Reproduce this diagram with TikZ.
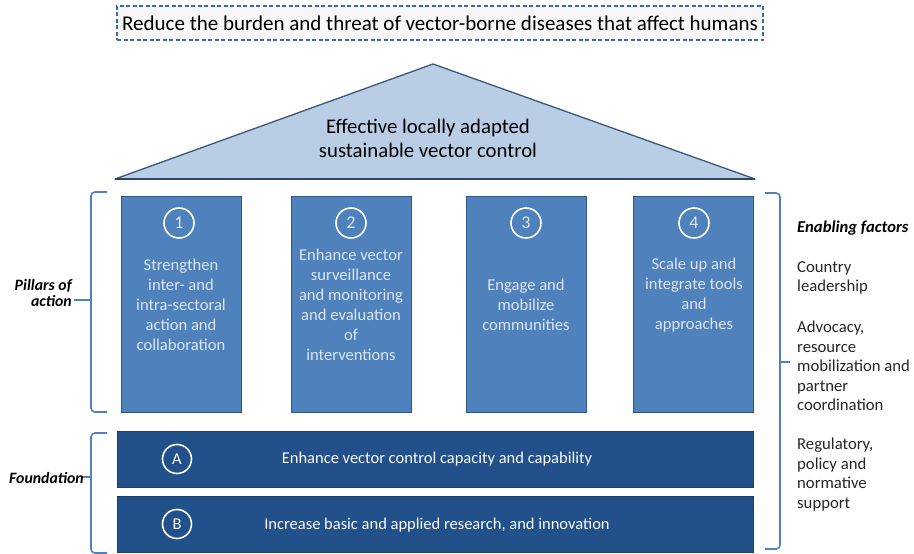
\documentclass[tikz,border=0pt]{standalone}
\usepackage{fontspec}
\setmainfont{Carlito}
\definecolor{roofFill}{HTML}{B9CDE5}
\definecolor{roofLine}{HTML}{3B5878}
\definecolor{pillarFill}{HTML}{4F81BD}
\definecolor{pillarLine}{HTML}{2E5687}
\definecolor{pillarText}{HTML}{DCE6F2}
\definecolor{baseFill}{HTML}{21508A}
\definecolor{braceCol}{HTML}{4F81BD}
\definecolor{dashCol}{HTML}{3E6A9E}
\begin{document}
\begin{tikzpicture}[x=1pt,y=-1pt,
  pillarbox/.style={draw=pillarLine,line width=1pt,fill=pillarFill,minimum width=120pt,minimum height=216pt,inner sep=0pt},
  basebar/.style={draw=baseFill!80!black,line width=0.8pt,fill=baseFill,minimum width=636pt,minimum height=56pt,inner sep=0pt},
  numcirc/.style={circle,draw=white,line width=1.6pt,minimum size=30pt,inner sep=0pt,text=pillarText,font=\fontsize{18}{18}\selectfont},
  pillartext/.style={align=center,text=pillarText,font=\fontsize{16.6}{20}\selectfont,inner sep=0pt},
  basetext/.style={text=white!90!pillarText,font=\fontsize{16.5}{18}\selectfont,inner sep=0pt},
  bracestyle/.style={draw=braceCol,line width=1.6pt,rounded corners=4pt},
  sidelabel/.style={align=right,font=\fontsize{15.8}{16.5}\selectfont\bfseries\itshape,inner sep=0pt},
  factor/.style={align=left,anchor=north west,font=\fontsize{16.7}{19.5}\selectfont,text=black!85,inner sep=0pt}
]
\useasboundingbox (0,0) rectangle (914,554);
\fill[white] (0,0) rectangle (914,554);

% goal box
\node[draw=dashCol,dashed,line width=1.2pt,dash pattern=on 4pt off 2.5pt,fill=black!3,minimum width=646pt,minimum height=34pt,inner sep=0pt,font=\fontsize{21}{22}\selectfont] (goal) at (440,23) {Reduce the burden and threat of vector-borne diseases that affect humans};

% roof
\draw[fill=roofFill,draw=roofLine,line width=1.3pt,line join=round] (115,179) -- (433,64) -- (755,179) -- cycle;
\draw[draw=roofLine!80!black,line width=1.8pt] (115,179) -- (755,179);
\node[align=center,font=\fontsize{20.8}{24}\selectfont,inner sep=0pt] (roof) at (428,138) {Effective locally adapted\\sustainable vector control};

% pillars
\node[pillarbox] (p1) at (181.5,304.5) {};
\node[pillarbox] (p2) at (351.5,304.5) {};
\node[pillarbox] (p3) at (526.5,304.5) {};
\node[pillarbox] (p4) at (693.5,304.5) {};

\node[numcirc] (c1) at (179,223) {1};
\node[numcirc] (c2) at (351,223) {2};
\node[numcirc] (c3) at (526,223) {3};
\node[numcirc] (c4) at (694,223) {4};

\node[pillartext] (t1) at (181,305) {Strengthen\\inter- and\\intra-sectoral\\action and\\collaboration};
\node[pillartext] (t2) at (351,305) {Enhance vector\\surveillance\\and monitoring\\and evaluation\\of\\interventions};
\node[pillartext] (t3) at (526,305) {Engage and\\mobilize\\communities};
\node[pillartext] (t4) at (694,295) {Scale up and\\integrate tools\\and\\approaches};

% foundation bars
\node[basebar] (fa) at (435,459) {};
\node[basebar] (fb) at (435,524.5) {};
\node[numcirc,text=white,minimum size=29pt,font=\fontsize{16.5}{16.5}\selectfont] (ca) at (177,459) {A};
\node[numcirc,text=white,minimum size=29pt,font=\fontsize{16.5}{16.5}\selectfont] (cb) at (177,524) {B};
\node[basetext] (ta) at (437,459) {Enhance vector control capacity and capability};
\node[basetext] (tb) at (437,525) {Increase basic and applied research, and innovation};

% left braces
\draw[bracestyle] (107,192) -- (91,192) -- (91,300);
\draw[bracestyle] (91,300) -- (91,412) -- (107,412);
\draw[draw=braceCol,line width=1.6pt] (91,300) -- (74,300);
\draw[bracestyle] (107,433) -- (91,433) -- (91,477);
\draw[bracestyle] (91,477) -- (91,553) -- (107,553);
\draw[draw=braceCol,line width=1.6pt] (91,477) -- (82,477);

\node[sidelabel,anchor=east] (pl) at (72,293) {Pillars of\\action};
\node[sidelabel,anchor=east] (fl) at (84,478) {Foundation};

% right brace
\draw[bracestyle] (765,193) -- (780,193) -- (780,362);
\draw[bracestyle] (780,362) -- (780,549) -- (765,549);
\draw[draw=braceCol,line width=1.6pt] (780,362) -- (790,362);

% enabling factors
\node[factor,font=\fontsize{16.6}{19}\selectfont\bfseries\itshape,text=black] (ef) at (797,221) {Enabling factors};
\node[factor] (f1) at (797,261) {Country\\leadership};
\node[factor] (f2) at (797,321) {Advocacy,\\resource\\mobilization and\\partner\\coordination};
\node[factor] (f3) at (797,438) {Regulatory,\\policy and\\normative\\support};
\end{tikzpicture}
\end{document}
